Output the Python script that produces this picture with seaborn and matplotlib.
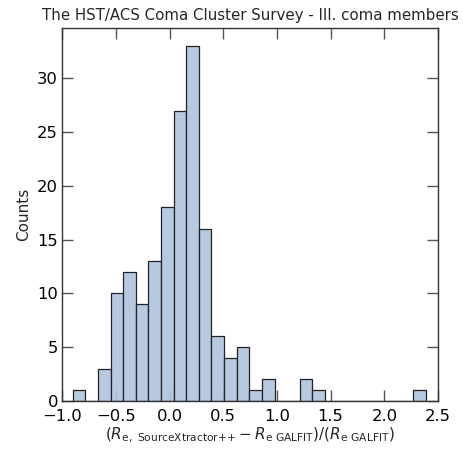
import numpy as np
import pandas as pd
import seaborn as sns
import matplotlib
matplotlib.use('Agg')
import matplotlib.pyplot as plt

## Histogram: 28 equal bins from about -0.90 to 2.386
bin_lo = -0.9007
bin_hi = 2.386
n_bins = 28
counts = [1, 0, 3, 10, 12, 9, 13, 18, 27, 33, 16, 6, 4, 5,
          1, 2, 0, 0, 2, 1, 0, 0, 0, 0, 0, 0, 0, 1]

edges = np.linspace(bin_lo, bin_hi, n_bins + 1)
centers = 0.5 * (edges[:-1] + edges[1:])
df = pd.DataFrame({'delta': centers, 'n': counts})

sns.set_theme(style='white')
plt.rcParams['font.family'] = ['DejaVu Sans']
plt.rcParams['mathtext.fontset'] = 'dejavusans'

fig, ax = plt.subplots(figsize=(4.64, 4.49), dpi=100)
fig.subplots_adjust(left=0.134, right=0.944, top=0.937, bottom=0.107)

sns.histplot(data=df, x='delta', weights='n', bins=n_bins, binrange=(bin_lo, bin_hi),
             ax=ax, color='lightsteelblue', alpha=0.9, edgecolor='#222222', linewidth=0.9)

ax.set_xlim(-1.0, 2.5)
ax.set_ylim(0, 34.65)
ax.set_xticks(np.arange(-1.0, 2.51, 0.5))
ax.set_yticks([0, 5, 10, 15, 20, 25, 30])

ax.tick_params(direction='in', length=8, width=1, colors='#555555',
               labelcolor='black', labelsize=11.8, top=True, right=True,
               bottom=True, left=True, pad=3)
ax.tick_params(axis='x', pad=6)
for s in ax.spines.values():
    s.set_color('#333333')
    s.set_linewidth(1.0)

ax.set_ylabel('Counts', fontsize=11)
ax.set_xlabel(r'$(R_{\rm e,\ SourceXtractor{+}{+}} - R_{\rm e\ GALFIT})/(R_{\rm e\ GALFIT})$',
              fontsize=11, labelpad=1)
ax.set_title('The HST/ACS Coma Cluster Survey - III. coma members', fontsize=10.8, pad=6)

plt.savefig('out.png', dpi=100)
